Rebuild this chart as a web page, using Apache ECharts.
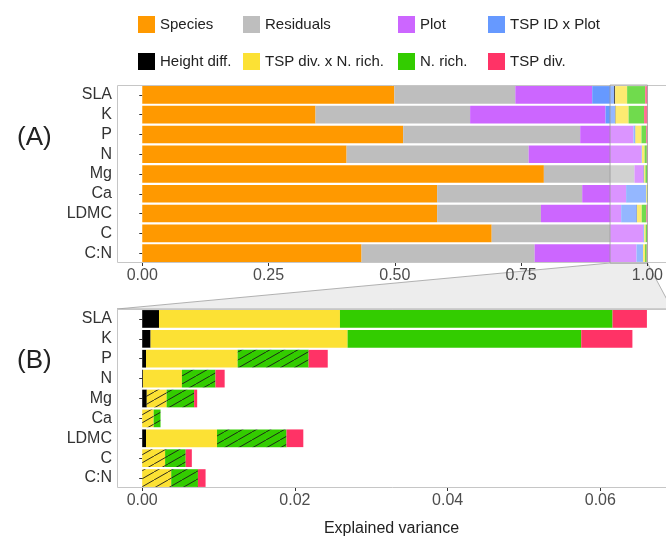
<!DOCTYPE html>
<html>
<head>
<meta charset="utf-8">
<script src="https://cdn.jsdelivr.net/npm/echarts@6/dist/echarts.min.js"></script>
<style>html,body{margin:0;padding:0;background:#fff}#c{width:666px;height:538px}</style>
</head>
<body>
<div id="c"></div>
<script>
// ---------- data ----------
const categories = ['SLA','K','P','N','Mg','Ca','LDMC','C','C:N'];
const species     = [0.4990,0.3430,0.5165,0.4045,0.7950,0.5837,0.5837,0.6917,0.4341];
const residuals   = [0.2395,0.3060,0.3504,0.3603,0.1793,0.2872,0.2055,0.2346,0.3426];
const plot        = [0.1522,0.2680,0.1054,0.2234,0.0177,0.0869,0.1588,0.0652,0.2017];
const tspIdPlot   = [0.0432,0.0188,0.0034,0.0010,0.0008,0.0398,0.0309,0.0020,0.0130];
const heightDiff  = [0.0022,0.0011,0.0005,0.0001,0.0006,0.0000,0.0005,0.0000,0.0000];
const tspDivNRich = [0.0237,0.0258,0.0120,0.0051,0.0026,0.0015,0.0093,0.0030,0.0038];
const nRich       = [0.0357,0.0306,0.0093,0.0044,0.0036,0.0009,0.0091,0.0027,0.0035];
const tspDiv      = [0.0045,0.0067,0.0025,0.0012,0.0004,0.0000,0.0022,0.0008,0.0010];
// non-significant (hatched) flags in panel B
const tspDivNRichHatched = [0,0,0,0,1,1,0,1,1];
const nRichHatched       = [0,0,1,1,1,1,1,1,1];
const ticksA = [0, 0.25, 0.5, 0.75, 1.0];
const ticksB = [0, 0.02, 0.04, 0.06];
const rangeA = [-0.05, 1.035];
const rangeB = [-0.0033, 0.0686];
const zoomWindow = [0.926, 1.0];

const names = ['Species','Residuals','Plot','TSP ID x Plot','Height diff.','TSP div. x N. rich.','N. rich.','TSP div.'];
const colors = {
  'Species':'#FF9900','Residuals':'#BEBEBE','Plot':'#CC66FF','TSP ID x Plot':'#6699FF',
  'Height diff.':'#000000','TSP div. x N. rich.':'#FCE134','N. rich.':'#33CC00','TSP div.':'#FF3366'
};
const valuesByName = {
  'Species':species,'Residuals':residuals,'Plot':plot,'TSP ID x Plot':tspIdPlot,
  'Height diff.':heightDiff,'TSP div. x N. rich.':tspDivNRich,'N. rich.':nRich,'TSP div.':tspDiv
};

function hatch(bg){
  const w=14,h=8;
  const c=document.createElement('canvas'); c.width=w; c.height=h;
  const g=c.getContext('2d');
  g.fillStyle=bg; g.fillRect(0,0,w,h);
  g.strokeStyle='#1a1a1a'; g.lineWidth=0.9;
  [[0,0],[-w,h],[w,-h]].forEach(([dx,dy])=>{
    g.beginPath(); g.moveTo(dx, h+dy); g.lineTo(w+dx, dy); g.stroke();
  });
  return {image:c, repeat:'repeat'};
}

const font = '"Liberation Sans", Arial, sans-serif';
const chart = echarts.init(document.getElementById('c'), null, {renderer:'canvas'});

const seriesA = names.map(n => ({
  name:n, type:'bar', stack:'A', xAxisIndex:0, yAxisIndex:0,
  barCategoryGap:'11%', itemStyle:{color:colors[n]}, data:valuesByName[n]
}));
const bNames = ['Height diff.','TSP div. x N. rich.','N. rich.','TSP div.'];
const seriesB = bNames.map(n => {
  let data = valuesByName[n];
  if (n === 'TSP div. x N. rich.') data = data.map((v,i)=> tspDivNRichHatched[i] ? {value:v, itemStyle:{color:hatch(colors[n])}} : v);
  if (n === 'N. rich.') data = data.map((v,i)=> nRichHatched[i] ? {value:v, itemStyle:{color:hatch(colors[n])}} : v);
  return {name:n, type:'bar', stack:'B', xAxisIndex:1, yAxisIndex:1,
    barCategoryGap:'11%', itemStyle:{color:colors[n]}, data};
});

const legendCols = [138, 243, 398, 488];
const legendRows = [16, 53];
const legends = names.map((n,i)=>({
  data:[n], left:legendCols[i%4], top:legendRows[Math.floor(i/4)], padding:0,
  icon:'rect', itemWidth:17, itemHeight:17, itemGap:0, selectedMode:false,
  textStyle:{fontSize:15, color:'#222', fontFamily:font}
}));

const yAxisCommon = {
  type:'category', data:categories, inverse:true,
  axisLine:{show:false}, splitLine:{show:false},
  axisTick:{show:true, alignWithLabel:true, interval:0, length:3, lineStyle:{color:'#333'}},
  axisLabel:{interval:0, fontSize:16, color:'#333', margin:5, fontFamily:font}
};

const gA = {left:117, top:85, height:178};
const gB = {left:117, top:309, height:179};

chart.setOption({
  animation:false,
  backgroundColor:'#fff',
  textStyle:{fontFamily:font},
  title:[
    {text:'(A)', left:12, top:120, textStyle:{fontSize:26, fontWeight:'normal', color:'#222', fontFamily:font}},
    {text:'(B)', left:12, top:343, textStyle:{fontSize:26, fontWeight:'normal', color:'#222', fontFamily:font}}
  ],
  legend:legends,
  grid:[
    {left:gA.left, top:gA.top, right:0, height:gA.height, show:false, containLabel:false},
    {left:gB.left, top:gB.top, right:0, height:gB.height, show:false, containLabel:false}
  ],
  xAxis:[
    {type:'value', gridIndex:0, min:rangeA[0], max:rangeA[1], z:5,
     axisLine:{show:false}, splitLine:{show:false},
     axisTick:{show:true, customValues:ticksA, length:3, lineStyle:{color:'#333'}},
     axisLabel:{customValues:ticksA, formatter:v=>v.toFixed(2), fontSize:16, color:'#4d4d4d', margin:5, fontFamily:font}},
    {type:'value', gridIndex:1, min:rangeB[0], max:rangeB[1],
     name:'Explained variance', nameLocation:'middle', nameGap:33,
     nameTextStyle:{fontSize:16, color:'#222', fontFamily:font},
     axisLine:{show:false}, splitLine:{show:false},
     axisTick:{show:true, customValues:ticksB, length:3, lineStyle:{color:'#333'}},
     axisLabel:{customValues:ticksB, formatter:v=>v.toFixed(2), fontSize:16, color:'#4d4d4d', margin:5, fontFamily:font}}
  ],
  yAxis:[
    Object.assign({gridIndex:0}, yAxisCommon),
    Object.assign({gridIndex:1}, yAxisCommon)
  ],
  series:seriesA.concat(seriesB)
});

// panel frames and zoom annotation derived from the axes
const zx0 = chart.convertToPixel({xAxisIndex:0}, zoomWindow[0]);
const zx1 = chart.convertToPixel({xAxisIndex:0}, zoomWindow[1]);
const bL = chart.convertToPixel({xAxisIndex:1}, rangeB[0]);
const bR = chart.convertToPixel({xAxisIndex:1}, rangeB[1]) + 6;
const aL = chart.convertToPixel({xAxisIndex:0}, rangeA[0]);
const aR = chart.convertToPixel({xAxisIndex:0}, rangeA[1]) + 10;
const aTop = gA.top, aBot = gA.top+gA.height;
const bTop = gB.top, bBot = gB.top+gB.height;
function frame(l,t,r,b){
  return {type:'polyline', z:50, silent:true,
    shape:{points:[[r,t+0.5],[l+0.5,t+0.5],[l+0.5,b-0.5],[r,b-0.5]]},
    style:{stroke:'#c6c6c6', lineWidth:1, fill:null}};
}
chart.setOption({
  graphic:[
    {type:'polygon', z:1, silent:true,
     shape:{points:[[zx0,aBot],[zx1,aBot],[bR,bTop],[bL,bTop]]},
     style:{fill:'rgba(225,225,225,0.6)', stroke:'#a0a0a0', lineWidth:0.8}},
    frame(aL,aTop,aR,aBot),
    frame(bL,bTop,bR,bBot),
    {type:'rect', z:100, silent:true,
     shape:{x:zx0, y:aTop, width:zx1-zx0, height:aBot-aTop},
     style:{fill:'rgba(255,255,255,0.3)', stroke:'#999', lineWidth:0.8}}
  ]
});
</script>
</body>
</html>
